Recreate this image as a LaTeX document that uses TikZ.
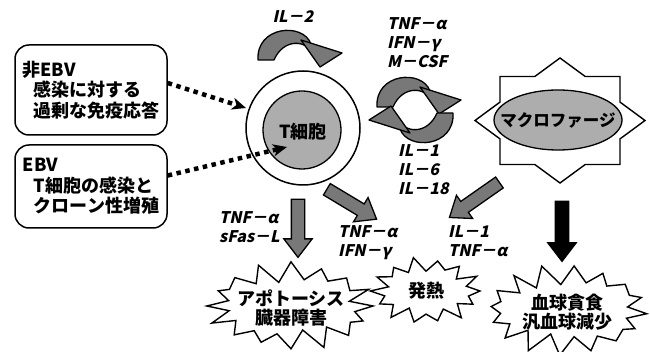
\documentclass[tikz,border=0pt]{standalone}
\usepackage{fontspec}
\newfontfamily\jp{Noto Sans CJK JP}
\newfontfamily\lab{Noto Sans CJK JP}[FakeSlant=0.22, BoldFeatures={FakeSlant=0.22}]
\usetikzlibrary{arrows.meta,shapes.arrows,shapes.geometric,calc}
\definecolor{cellgray}{gray}{0.68}
\definecolor{arrowgray}{gray}{0.47}
\tikzset{
 box/.style={draw, line width=1.5pt, rounded corners=14pt, minimum width=152pt, align=left,
   font=\jp\bfseries\fontsize{18}{20.5}\selectfont, inner sep=0pt},
 dotarrow/.style={line width=4.5pt, line cap=butt, dash pattern=on 4.5pt off 4.5pt,
   -{Stealth[length=14pt,width=12pt,inset=4pt]}},
 lbl/.style={align=left, font=\lab\bfseries\fontsize{16}{19}\selectfont, inner sep=0pt},
 jtext/.style={align=center, font=\jp\bfseries\fontsize{18}{19}\selectfont, inner sep=0pt},
 burstline/.style={draw, fill=white, line width=1.4pt, line join=miter},
 fat/.style={single arrow, draw, line width=1.3pt, fill=arrowgray, inner xsep=0pt, inner ysep=6pt,
   single arrow head extend=7.5pt, single arrow tip angle=75, minimum width=27pt},
 fatcurve/.style={draw, line width=1.3pt, fill=arrowgray, line join=round},
}
\newcommand\curvedfat{%
  \draw[fatcurve] (258,60) .. controls (256,26) and (303,22) .. (311,44)
    -- (315,56) .. controls (306,38) and (283,39) .. (274,60) -- cycle;
  \draw[fatcurve] (301,40) -- (342,53) -- (320,67) -- cycle;
}
\begin{document}
\begin{tikzpicture}[x=1pt,y=-1pt]
\useasboundingbox[fill=white] (0,0) rectangle (650,352);

% left boxes
\node[box, minimum height=90pt] (b1) at (91,90)
  {非EBV\\\hspace*{11pt}感染に対する\\\hspace*{11pt}過剰な免疫応答};
\node[box, minimum height=83pt] (b2) at (91,186.5)
  {EBV\\\hspace*{11pt}T細胞の感染と\\\hspace*{11pt}クローン性増殖};

% T cell
\node[circle, draw, line width=1.5pt, fill=white, minimum size=114pt, inner sep=0pt] (tout) at (303,128) {};
\node[circle, draw, line width=1.3pt, fill=cellgray, minimum size=78pt, inner sep=0pt] (tin) at (302,130) {};
\node[jtext] (ttext) at (303,132) {T細胞};

% dotted arrows
\coordinate (e1) at (246,108);
\coordinate (e2) at (287,147);
\draw[dotarrow] ([yshift=7pt]b1.east) -- (e1);
\draw[dotarrow] ([yshift=11pt]b2.east) -- (e2);

% curved arrows
\curvedfat
\begin{scope}[shift={(119,47)}]\curvedfat\end{scope}
\begin{scope}[rotate around={180:(415,110)}, shift={(119,47)}]\curvedfat\end{scope}

% macrophage
\begin{scope}[shift={(560,120.5)}]
\draw[burstline] (0,-62.5) -- (25.2,-44) -- (60,-44) -- (60,-18.4) -- (85,0) -- (60,18.4) -- (60,44)
  -- (25.2,44) -- (0,62.5) -- (-25.2,44) -- (-60,44) -- (-60,18.4) -- (-85,0) -- (-60,-18.4)
  -- (-60,-44) -- (-25.2,-44) -- cycle;
\end{scope}
\node[ellipse, draw, line width=1.3pt, fill=cellgray, minimum width=128pt, minimum height=60pt, inner sep=0pt] (mac) at (558,120) {};
\node[jtext, font=\jp\bfseries\fontsize{16.5}{18}\selectfont] (mactext) at (mac) {マクロファージ};

% labels
\node[lbl] (il2) at (293,17) {IL－2};
\node[lbl, anchor=west] (lab1) at (387,42.5) {TNF－α\\IFN－γ\\M－CSF};
\node[lbl, anchor=west] (lab2) at (398,170) {IL－1\\IL－6\\IL－18};
\node[lbl, anchor=west] (lab3) at (219,227.5) {TNF－α\\sFas－L};
\node[lbl, anchor=west] (lab4) at (338,242.5) {TNF－α\\IFN－γ};
\node[lbl, anchor=west] (lab5) at (448,241) {IL－1\\TNF－α};

% straight fat arrows
\node[fat, minimum height=58pt, rotate=-90] (a1) at (298,224) {};
\node[fat, minimum height=58pt, rotate=-31] (a2) at (348,202) {};
\node[fat, minimum height=61pt, rotate=-145] (a3) at (478,197.5) {};
\node[fat, fill=black, minimum height=60pt, rotate=-90] (a4) at (562,227) {};

% bursts
\draw[burstline] plot[samples at={0,...,31}]
  ({291+(82*(1+0.05*sin(\x*137))-mod(\x,2)*(16+4*sin(\x*71)))*cos(\x*11.25)},
   {306+(42*(1+0.07*sin(\x*137))-mod(\x,2)*15)*sin(\x*11.25)}) -- cycle;
\node[jtext] (apop) at (291,308) {アポトーシス\\臓器障害};
\draw[burstline] plot[samples at={0,...,27}]
  ({426+(54*(1+0.05*sin(\x*113))-mod(\x,2)*13)*cos(\x*12.857)},
   {291+(32*(1+0.07*sin(\x*113))-mod(\x,2)*11)*sin(\x*12.857)}) -- cycle;
\node[jtext] (fever) at (426,291) {発熱};
\draw[burstline] plot[samples at={0,...,31}]
  ({567+(80*(1+0.05*sin(\x*151))-mod(\x,2)*(16+4*sin(\x*83)))*cos(\x*11.25+5)},
   {310+(43*(1+0.07*sin(\x*151))-mod(\x,2)*15)*sin(\x*11.25+5)}) -- cycle;
\node[jtext] (hlh) at (567,312) {血球貪食\\汎血球減少};
\end{tikzpicture}
\end{document}
